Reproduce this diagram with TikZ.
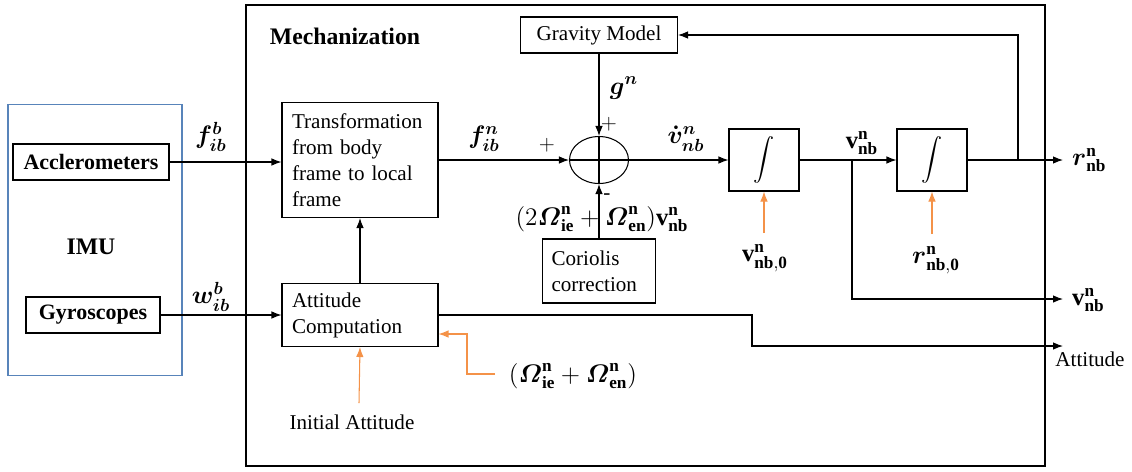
\documentclass[tikz,border=0pt]{standalone}
\usepackage{amsmath,amssymb}
\usepackage{fontspec}
\setmainfont{Liberation Serif}[BoldFont={Liberation Serif Bold}]
\usetikzlibrary{arrows.meta,positioning,shapes.geometric}
\definecolor{imublue}{RGB}{88,132,186}
\definecolor{initorange}{RGB}{244,146,72}

\begin{document}
\begin{tikzpicture}[x=0.02cm,y=-0.02cm,
  block/.style={draw,rectangle,line width=0.6pt,font=\fontsize{12}{14.8}\selectfont},
  hwblock/.style={draw,rectangle,line width=0.6pt,minimum height=0.72cm,font=\bfseries\fontsize{12.5}{14}\selectfont},
  integ/.style={draw,rectangle,line width=0.6pt,minimum width=1.4cm,minimum height=1.24cm,font=\fontsize{12}{14}\selectfont},
  lab/.style={font=\fontsize{14}{16}\selectfont},
  title/.style={font=\bfseries\fontsize{13.5}{16}\selectfont},
  sig/.style={line width=0.6pt,-{Latex[length=2mm,width=1.5mm]}},
  initsig/.style={sig,initorange}]
\useasboundingbox (0,0) rectangle (1132,471);

% Frames
\node[draw=imublue,line width=0.6pt,minimum width=3.48cm,minimum height=5.42cm] (imubox) at (95,240) {};
\node[draw,line width=0.8pt,minimum width=15.98cm,minimum height=9.22cm] (mech) at (645.5,235.5) {};
\node[title] (imu) at (91,247) {IMU};
\node[title] (mechlab) at (345,36) {Mechanization};

% Nodes
\node[hwblock,minimum width=3.12cm] (acc) at (91,162) {Acclerometers};
\node[hwblock,minimum width=2.68cm] (gyro) at (93,315) {Gyroscopes};
\node[block,minimum width=3.12cm,minimum height=2.3cm,text width=2.72cm,align=left] (trans) at (360,160) {Transformation\\from body\\frame to local\\frame};
\node[block,minimum width=3.12cm,minimum height=1.26cm,text width=2.72cm,align=left] (att) at (360,315) {Attitude\\Computation};
\node[block,minimum width=3.14cm,minimum height=0.72cm] (grav) at (599,35) {Gravity Model};
\node[block,minimum width=2.26cm,minimum height=1.28cm,text width=1.9cm,align=left] (cor) at (599,271) {Coriolis\\correction};
\node[draw,ellipse,line width=0.6pt,minimum width=1.18cm,minimum height=0.94cm] (sum) at (599,160) {};
\node[integ] (int1) at (764,160) {$\displaystyle\int$};
\node[integ] (int2) at (932,160) {$\displaystyle\int$};

% Labels
\node[lab] (fb) at (211,137) {$\boldsymbol{f_{ib}^{b}}$};
\node[lab] (wb) at (211,297) {$\boldsymbol{w_{ib}^{b}}$};
\node[lab] (fn) at (484,139) {$\boldsymbol{f_{ib}^{n}}$};
\node[lab] (gn) at (624,88) {$\boldsymbol{g^{n}}$};
\node[lab] (vdot) at (686,139) {$\boldsymbol{\dot v_{nb}^{n}}$};
\node[lab] (corlab) at (602,219) {$(2\boldsymbol{\varOmega}^{\mathbf n}_{\mathbf{ie}}+\boldsymbol{\varOmega}^{\mathbf n}_{\mathbf{en}})\mathbf v^{\mathbf n}_{\mathbf{nb}}$};
\node[lab] (vnb) at (862,143) {$\mathbf v^{\mathbf n}_{\mathbf{nb}}$};
\node[lab] (v0) at (765,258) {$\mathbf v^{\mathbf n}_{\mathbf{nb,0}}$};
\node[lab] (r0) at (936,260) {$\boldsymbol r^{\mathbf n}_{\mathbf{nb,0}}$};
\node[lab,anchor=west] (rlab) at (1066,160) {$\boldsymbol r^{\mathbf n}_{\mathbf{nb}}$};
\node[lab,anchor=west] (vlab) at (1066,300) {$\mathbf v^{\mathbf n}_{\mathbf{nb}}$};
\node[block,draw=none] (attlab) at (1090,359) {Attitude};
\node[block,draw=none] (initlab) at (352,422) {Initial Attitude};
\node[lab] (omlab) at (573,376) {$(\boldsymbol{\varOmega}^{\mathbf n}_{\mathbf{ie}}+\boldsymbol{\varOmega}^{\mathbf n}_{\mathbf{en}})$};
\node[block,draw=none] (plusl) at (547,145) {$+$};
\node[block,draw=none] (plust) at (609,124) {$+$};
\node[block,draw=none] (minus) at (607,197) {-};

% Free ends
\coordinate (vsplit) at (852,160);
\coordinate (rsplit) at (1018,160);
\coordinate (rout) at (1063,160);
\coordinate (vout) at (1063,299);
\coordinate (attbend) at (752,315);
\coordinate (attout) at (1063,346);
\coordinate (initfoot) at (359,403);
\coordinate (omfoot) at (495,374);
\coordinate (omcorner) at (467,334);
\coordinate (v0foot) at (764,233);
\coordinate (r0foot) at (932,234);

% Edges
\draw[sig] (acc.east) -- (acc.east -| trans.west);
\draw[sig] (gyro.east) -- (gyro.east -| att.west);
\draw[sig] (att) -- (trans);
\draw[sig] (trans.east) -- (sum.west);
\draw[sig] (grav.south) -- (sum.north);
\draw[sig] (cor.north) -- (sum.south);
\draw[line width=0.6pt] (sum.north) -- (sum.south) (sum.west) -- (sum.east);
\draw[sig] (sum.east) -- (int1.west);
\draw[sig] (int1.east) -- (int2.west);
\draw[sig] (int2.east) -- (rout);
\draw[sig] (rsplit) |- (grav.east);
\draw[sig] (vsplit) |- (vout);
\draw[sig] (att.east) -- (attbend) |- (attout);
\draw[initsig] (initfoot) -- (att.south);
\draw[initsig] (omfoot) -| (omcorner) -- (omcorner -| att.east);
\draw[initsig] (v0foot) -- (int1.south);
\draw[initsig] (r0foot) -- (int2.south);
\end{tikzpicture}
\end{document}
